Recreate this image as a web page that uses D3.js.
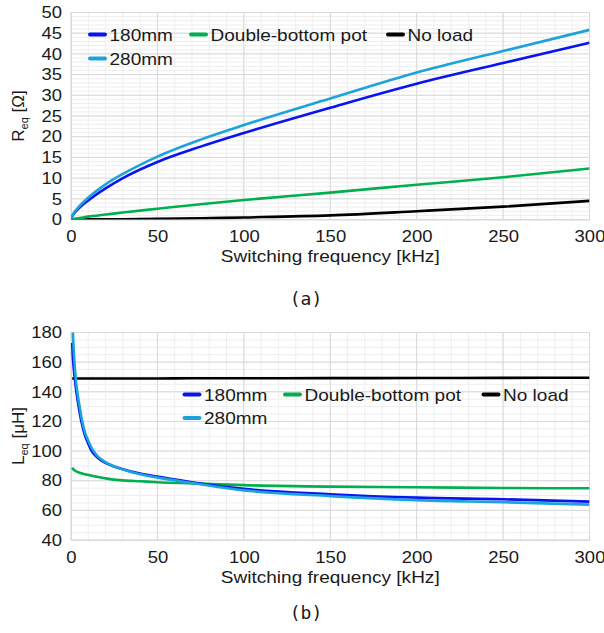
<!DOCTYPE html>
<html>
<head>
<meta charset="utf-8">
<script src="https://cdn.jsdelivr.net/npm/d3@7"></script>
<style>
  body { margin: 0; background: #fff; }
  svg text { font-family: "Liberation Sans", Arial, sans-serif; fill: #1a1a1a; }
</style>
</head>
<body>
<svg id="chart" width="604" height="633"></svg>
<script>
// (a) equivalent resistance vs switching frequency
var freqR = [0, 1, 2, 5, 10, 20, 30, 50, 75, 100, 150, 200, 250, 300];
var r180 = [0, 1.0, 1.6, 2.9, 4.6, 7.5, 10.0, 13.9, 17.6, 20.9, 27.0, 32.8, 37.8, 42.7];
var r280 = [0, 1.1, 1.8, 3.3, 5.3, 8.5, 11.0, 15.2, 19.3, 22.8, 29.2, 35.5, 40.7, 45.8];
var rPot = [0, 0.1, 0.15, 0.35, 0.7, 1.2, 1.7, 2.6, 3.7, 4.7, 6.5, 8.4, 10.2, 12.3];
var rNoLoad = [0, 0, 0, 0.01, 0.02, 0.04, 0.06, 0.15, 0.3, 0.5, 1.0, 2.0, 3.1, 4.5];

// (b) equivalent inductance vs switching frequency
var freqL = [0.7, 1, 1.5, 2, 3, 4, 5, 6, 8, 10, 12, 15, 20, 30, 40, 50, 70, 100, 150, 200, 250, 300];
var l180 = [173, 165, 157, 151, 141, 133, 126, 120, 111, 105, 100, 96, 92, 87.8, 84.8, 82.8, 79, 74.5, 70.9, 68.6, 67.5, 65.9];
var l280 = [190, 182, 170, 160, 146, 137, 130, 123, 113, 107, 102, 97, 92.5, 87.5, 84.3, 82.1, 78.5, 73.5, 69.6, 66.9, 65.5, 63.9];
var lPot = [88.9, 88.3, 87.5, 87, 86.3, 85.8, 85.4, 85.0, 84.4, 83.8, 83.3, 82.7, 81.6, 80.2, 79.6, 79.0, 78.2, 77.0, 76.0, 75.6, 75.1, 74.9];
var lNoLoad = [149, 149, 149, 149, 149, 149, 149, 149, 149, 149, 149, 149, 149, 149, 149, 149, 149.1, 149.1, 149.2, 149.3, 149.4, 149.5];

var seriesNames = ["180mm", "280mm", "Double-bottom pot", "No load"];
var seriesColors = ["#0a14ee", "#1ca3db", "#00b050", "#000000"];
var xTicks = [0, 50, 100, 150, 200, 250, 300];

var svg = d3.select("#chart");
var sx = 1.12; // horizontal stretch of the original text

function drawPanel(p) {
  var x = d3.scaleLinear().domain([0, 300]).range([71, 589.5]);
  var y = d3.scaleLinear().domain(p.yDomain).range([p.bottom, p.top]);
  var g = svg.append("g");

  // minor grid
  g.append("g").selectAll("line")
    .data(d3.range(0, 301, 10))
    .join("line")
      .attr("x1", d => x(d)).attr("x2", d => x(d))
      .attr("y1", p.top).attr("y2", p.bottom)
      .attr("stroke", "#eeeeee");
  g.append("g").selectAll("line")
    .data(d3.range(p.yDomain[0], p.yDomain[1] + 0.001, p.minor))
    .join("line")
      .attr("x1", x(0)).attr("x2", x(300))
      .attr("y1", d => y(d)).attr("y2", d => y(d))
      .attr("stroke", "#eeeeee");

  // major grid
  g.append("g").selectAll("line")
    .data(xTicks)
    .join("line")
      .attr("x1", d => x(d)).attr("x2", d => x(d))
      .attr("y1", p.top).attr("y2", p.bottom)
      .attr("stroke", "#d9d9d9");
  g.append("g").selectAll("line")
    .data(p.yTicks)
    .join("line")
      .attr("x1", x(0)).attr("x2", x(300))
      .attr("y1", d => y(d)).attr("y2", d => y(d))
      .attr("stroke", "#d9d9d9");

  // axes
  var xAxis = d3.axisBottom(x).tickValues(xTicks).tickSize(0).tickPadding(11);
  var xg = g.append("g")
      .attr("transform", "translate(0," + p.bottom + ")")
      .call(xAxis);
  xg.select(".domain").attr("stroke", "#d9d9d9");
  xg.selectAll("text")
      .style("font-size", "16.5px")
      .attr("fill", "#1a1a1a")
      .attr("transform", "scale(" + sx + ",1)");

  var yAxis = d3.axisLeft(y).tickValues(p.yTicks).tickSize(0).tickPadding(8);
  var yg = g.append("g")
      .attr("transform", "translate(" + x(0) + ",0)")
      .call(yAxis);
  yg.select(".domain").attr("stroke", "#d9d9d9");
  yg.selectAll("text")
      .style("font-size", "16.5px")
      .attr("fill", "#1a1a1a")
      .attr("transform", "scale(" + sx + ",1)");

  g.append("text")
      .attr("x", x(150) / sx)
      .attr("y", p.bottom + 43)
      .attr("transform", "scale(" + sx + ",1)")
      .style("text-anchor", "middle")
      .style("font-size", "17px")
      .text("Switching frequency [kHz]");

  var yt = g.append("text")
      .attr("transform", "translate(23.5," + p.yTitleY + ") rotate(-90)")
      .style("text-anchor", "middle")
      .style("font-size", "17px");
  yt.append("tspan").text(p.yTitle[0]);
  yt.append("tspan").attr("dy", 4).style("font-size", "11px").text("eq");
  yt.append("tspan").attr("dy", -4).text(" " + p.yTitle[1]);

  // curves
  var clipId = "clip-" + p.id;
  svg.append("clipPath").attr("id", clipId)
    .append("rect")
      .attr("x", x(0)).attr("y", p.top)
      .attr("width", x(300) - x(0)).attr("height", p.bottom - p.top);

  var line = d3.line()
      .x(d => x(d[0]))
      .y(d => y(d[1]))
      .curve(d3.curveMonotoneX);

  var order = [3, 2, 0, 1];
  g.append("g")
      .attr("clip-path", "url(#" + clipId + ")")
    .selectAll("path")
    .data(order)
    .join("path")
      .attr("fill", "none")
      .attr("stroke", i => seriesColors[i])
      .attr("stroke-width", 2.6)
      .attr("stroke-linejoin", "round")
      .attr("d", i => line(p.freq.map((f, k) => [f, p.values[i][k]])));

  // legend
  var lg = g.append("g").selectAll("g")
    .data(p.legend)
    .join("g")
      .attr("transform", d => "translate(" + d[1] + "," + d[2] + ")");
  lg.append("line")
      .attr("x1", 0).attr("x2", 15)
      .attr("stroke", d => seriesColors[d[0]])
      .attr("stroke-width", 4)
      .attr("stroke-linecap", "round");
  lg.append("text")
      .attr("x", 19.5 / sx)
      .attr("dy", "0.36em")
      .attr("transform", "scale(" + sx + ",1)")
      .style("font-size", "17px")
      .text(d => seriesNames[d[0]]);

  svg.append("text")
      .attr("x", 306)
      .attr("y", p.captionY)
      .style("text-anchor", "middle")
      .style("font-family", "'DejaVu Sans Mono', monospace")
      .style("font-size", "18px")
      .attr("fill", "#333")
      .text(p.caption);
}

drawPanel({
  id: "a",
  yDomain: [0, 50], yTicks: d3.range(0, 51, 5), minor: 1,
  top: 12.5, bottom: 219.5,
  yTitle: ["R", "[\u03a9]"], yTitleY: 116,
  freq: freqR, values: [r180, r280, rPot, rNoLoad],
  legend: [[0, 90, 34.5], [2, 191, 34.5], [3, 388, 34.5], [1, 90, 58.5]],
  caption: "(a)", captionY: 305
});

drawPanel({
  id: "b",
  yDomain: [40, 180], yTicks: d3.range(40, 181, 20), minor: 5,
  top: 332.5, bottom: 540,
  yTitle: ["L", "[\u03bcH]"], yTitleY: 436,
  freq: freqL, values: [l180, l280, lPot, lNoLoad],
  legend: [[0, 184.5, 394.5], [2, 285, 394.5], [3, 483.5, 394.5], [1, 184.5, 418]],
  caption: "(b)", captionY: 619
});
</script>
</body>
</html>
